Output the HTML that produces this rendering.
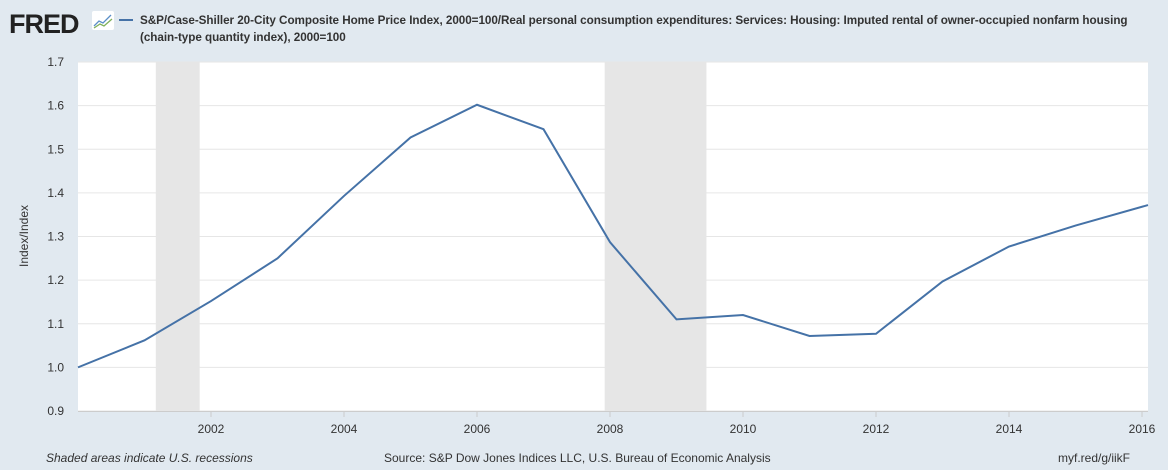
<!DOCTYPE html>
<html><head><meta charset="utf-8"><style>
body{margin:0;width:1168px;height:470px;background:#e1e9f0;font-family:"Liberation Sans",sans-serif;overflow:hidden;position:relative}
.t{position:absolute;font-size:12px;color:#333}
</style></head><body>
<div style="position:absolute;left:9px;top:9px;font-size:27px;font-weight:bold;color:#222;letter-spacing:-1px">FRED</div>
<svg style="position:absolute;left:92px;top:11px" width="22" height="19"><rect width="22" height="19" rx="2" fill="#fff"/><polyline points="2,15 7,10 11,12 19,4" fill="none" stroke="#5b8fc7" stroke-width="1.3"/><polyline points="2,17 8,13 12,15 20,8" fill="none" stroke="#7fb05a" stroke-width="1.3"/></svg>
<div style="position:absolute;left:119px;top:19px;width:14px;height:2px;background:#4572a7"></div>
<div class="t" style="left:140px;top:12px;font-weight:bold;font-size:11.7px;letter-spacing:-0.05px;line-height:17px;width:1025px;white-space:nowrap">S&amp;P/Case-Shiller 20-City Composite Home Price Index, 2000=100/Real personal consumption expenditures: Services: Housing: Imputed rental of owner-occupied nonfarm housing<br>(chain-type quantity index), 2000=100</div>
<svg id="c" width="1168" height="470" style="position:absolute;left:0;top:0"></svg>
<div class="t" style="left:46px;top:451px;font-style:italic">Shaded areas indicate U.S. recessions</div>
<div class="t" style="left:384px;top:451px">Source: S&amp;P Dow Jones Indices LLC, U.S. Bureau of Economic Analysis</div>
<div class="t" style="left:1058px;top:451px">myf.red/g/iikF</div>
<script>
const years=[2000,2001,2002,2003,2004,2005,2006,2007,2008,2009,2010,2011,2012,2013,2014,2015,2016.09];
const values=[1.0,1.062,1.152,1.25,1.393,1.527,1.602,1.546,1.287,1.11,1.12,1.072,1.077,1.197,1.277,1.325,1.372];
const yTicks=[0.9,1.0,1.1,1.2,1.3,1.4,1.5,1.6,1.7];
const xTicks=[2002,2004,2006,2008,2010,2012,2014,2016];
const recessions=[[2001.17,2001.83],[2007.92,2009.45]];
const L=78,R=1148,T=62,B=411,x0=2000,x1=2016.09,y0=0.9,y1=1.7;
const X=v=>L+(v-x0)/(x1-x0)*(R-L), Y=v=>B-(v-y0)/(y1-y0)*(B-T);
const s=document.getElementById('c'),NS='http://www.w3.org/2000/svg';
function mk(t,a){const e=document.createElementNS(NS,t);for(const k in a)e.setAttribute(k,a[k]);s.appendChild(e);return e;}
let bg=mk('rect',{x:L,y:T,width:R-L,height:B-T,fill:'#fff'});


recessions.forEach(r=>{const e=mk('rect',{x:X(r[0]),y:T,width:X(r[1])-X(r[0]),height:B-T,fill:'#e6e6e6'});

});
yTicks.forEach(v=>{const g=mk('line',{x1:L,x2:R,y1:Y(v),y2:Y(v),stroke:'#e6e6e6','stroke-width':1});


const t=mk('text',{x:L-14,y:Y(v)+4,'text-anchor':'end','font-size':12,fill:'#333'});t.textContent=v.toFixed(1);

});
xTicks.forEach(v=>{const t=mk('text',{x:X(v),y:B+22,'text-anchor':'middle','font-size':12,fill:'#333'});t.textContent=v;


const k=mk('line',{x1:X(v),x2:X(v),y1:B,y2:B+6,stroke:'#ccc'});

});
const ax=mk('line',{x1:L,x2:R,y1:B+0.5,y2:B+0.5,stroke:'#ccc'});


const yt=mk('text',{x:0,y:0,transform:'translate(28,236) rotate(-90)','text-anchor':'middle','font-size':12,fill:'#333'});yt.textContent='Index/Index';


const p=mk('polyline',{points:years.map((y,i)=>X(y)+','+Y(values[i])).join(' '),fill:'none',stroke:'#4572a7','stroke-width':2});


</script>
</body></html>
